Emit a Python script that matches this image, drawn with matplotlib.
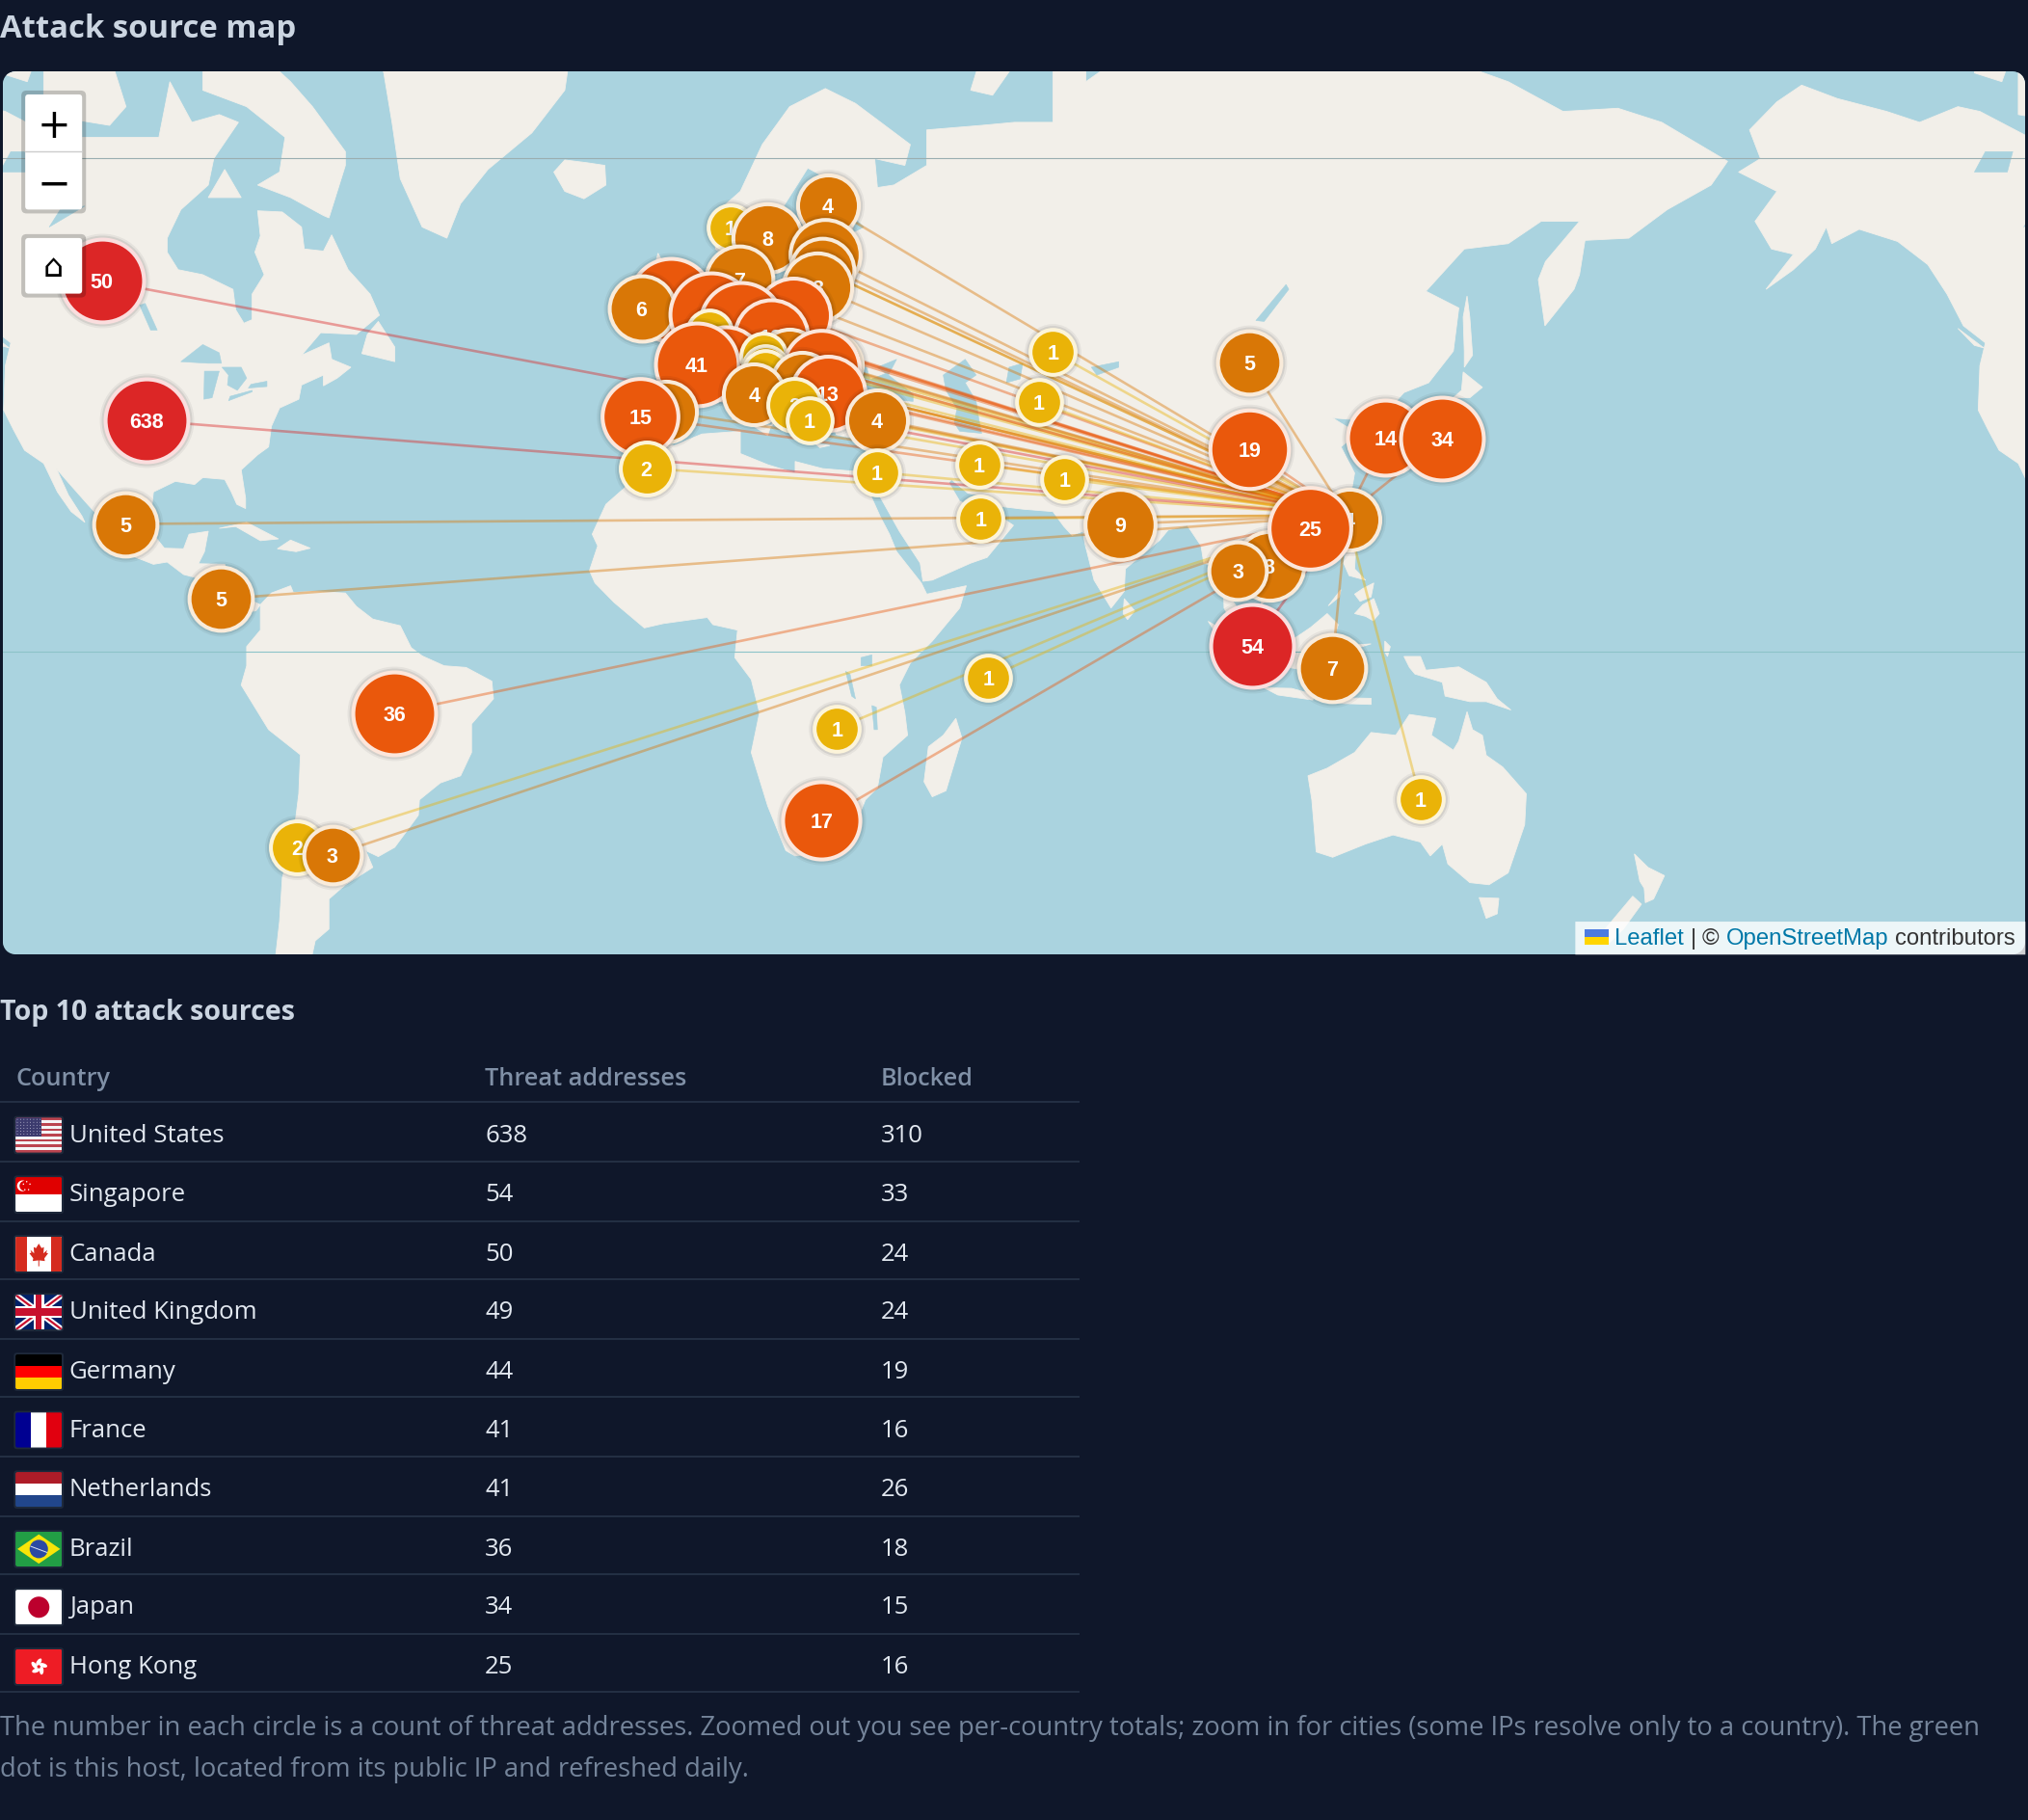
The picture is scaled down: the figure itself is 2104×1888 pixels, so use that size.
import numpy as np
import matplotlib
matplotlib.use("Agg")
import matplotlib.pyplot as plt
from matplotlib.patches import FancyBboxPatch, Rectangle, Circle, Ellipse, Polygon

# ---------- table data ----------
countries = ["United States", "Singapore", "Canada", "United Kingdom", "Germany",
             "France", "Netherlands", "Brazil", "Japan", "Hong Kong"]
threats = [638, 54, 50, 49, 44, 41, 41, 36, 34, 25]
blocked = [310, 33, 24, 24, 19, 16, 26, 18, 15, 16]
headers = ["Country", "Threat addresses", "Blocked"]
footer_lines = ["The number in each circle is a count of threat addresses. Zoomed out you see per-country totals; zoom in for cities (some IPs resolve only to a country). The green",
                "dot is this host, located from its public IP and refreshed daily."]

# ---------- map markers, drawn in this order ----------
marker_count = [4, 1, 8, 9, 5, 7, 8, 49, 6, 41, 13, 44, 1, 12, 12, 41,
                4, 1, 4, 15, 1, 1, 4, 13, 4, 4, 15, 2, 1, 4, 2,
                1, 1, 1, 1, 1, 1, 9,
                5, 19, 14, 34, 4, 8, 25, 3, 54, 7,
                50, 638, 5, 5, 36, 2, 3, 17, 1, 1, 1]
marker_lon = [25.9, 8.25, 14.9, 25.5, 25.0, 9.9, 24.1, -2.6, -8.0, 4.7, 19.6, 10.1, 4.4, 15.6, 7.3, 2.1,
              18.9, 14.2, 26.6, 24.8, 14.6, 14.6, 21.2, 25.9, 12.5, -3.5, -8.25, 19.8, 22.6, 34.9, -7.1,
              34.9, 67.0, 64.4, 53.5, 69.1, 53.8, 79.2,
              102.8, 102.8, 127.6, 138.0, 121.0, 106.4, 113.9, 100.7, 103.3, 117.9,
              -106.4, -98.3, -102.1, -84.7, -53.1, -70.8, -64.4, 24.8, 27.6, 55.2, 134.0]
marker_lat = [62.83, 60.95, 60.0, 58.44, 56.94, 56.0, 55.2, 53.85, 52.99, 52.3, 52.15, 51.2, 50.23, 49.8, 46.46, 46.31,
              46.96, 47.44, 46.3, 45.82, 45.82, 45.2, 44.05, 42.61, 42.5, 40.12, 39.39, 41.0, 38.85, 38.85, 31.74,
              31.13, 47.9, 41.37, 32.34, 30.11, 23.61, 22.73,
              46.63, 34.7, 36.43, 36.24, 23.39, 15.6, 22.08, 14.69, 1.18, -2.83,
              55.88, 38.85, 22.73, 9.63, -11.02, -33.52, -34.7, -29.31, -13.78, -4.71, -25.95]
# markers whose number is completely covered by a later marker
marker_label_covered = [3, 4, 7, 9, 10, 11, 12, 14, 16, 17, 18, 20, 21, 22, 25]
hub_lon = 120.5
hub_lat = 24.2

# ---------- coastlines (lon, lat) ----------
north_america = [(-168,65.5),(-164,66.5),(-166,68.5),(-161,70.3),(-156.5,71.3),(-150,70.5),(-141,69.7),(-135,69),(-128,70),(-124,69.7),(-115,68),(-108,68),(-100,68),(-96,68),(-94,71.5),(-90,69),(-85,69.5),(-81.5,69),(-86,66.5),(-87,64.5),(-92,62.5),(-94.5,60),(-94.5,58.7),(-92.5,57),(-88,56.5),(-82.5,55),(-82,52.8),(-80.5,51.3),(-79,51.7),(-79,54.5),(-76.8,56.5),(-78.5,58.7),(-77.5,60.2),(-78,62.4),(-73.5,62.3),(-70,61),(-69.5,59),(-66,58.8),(-64.5,60.3),(-61.5,57),(-57.5,54.5),(-55.8,52.2),(-60,50),(-66.5,50.2),(-70,47.5),(-65,49),(-64.5,47),(-61,46),(-63.5,44.6),(-66,43.6),(-66,45),(-70,43.7),(-70.5,41.8),(-74,40.6),(-75.5,38),(-76,35),(-78,33.8),(-81,31.5),(-80.2,27),(-80.2,25.3),(-81.8,26),(-82.8,28),(-84,30),(-88,30.3),(-89.5,29.2),(-93,29.7),(-97,28),(-97.5,24),(-97.5,21.5),(-95,18.6),(-91.5,18.5),(-90.5,21),(-87,21.5),(-87.7,18),(-88.8,15.9),(-84,15.8),(-83.3,13),(-83.7,10.8),(-81.5,9),(-79.5,9.5),(-77.5,8.6),(-78.3,7.5),(-80,7.3),(-83,8.2),(-85.7,10),(-87.5,13),(-91.5,14),(-94.5,16.2),(-97,15.8),(-101.5,17.5),(-105.5,20),(-105.5,22.5),(-109,26),(-112.5,29.5),(-114.7,31.7),(-112.5,27.5),(-110,24),(-109.5,23),(-112,24.8),(-114.5,28),(-117,32.5),(-120.5,34.5),(-122.5,37.5),(-124.3,40.3),(-124,46.2),(-123,49),(-127,51),(-130,54.5),(-133.5,57.5),(-139,59.7),(-146,60.8),(-151,59.5),(-152,61),(-154,59),(-158,57),(-163,55),(-158,58.5),(-162,59),(-165,61.5),(-161,64)]
baffin = [(-62,66),(-65,61.8),(-66,62),(-72,63.5),(-78,64.5),(-74,65.5),(-73,68),(-80,70),(-88,71),(-88,73.5),(-80,73.7),(-72,71.5),(-68,70),(-62,67)]
victoria_island = [(-117,69.5),(-105,68.8),(-102,70),(-105,73),(-117,73)]
banks_island = [(-125,72),(-120,71.5),(-117,74),(-124,74.5)]
southampton = [(-87,63.5),(-81,63.5),(-84,65.7)]
newfoundland = [(-59,47.7),(-53,46.7),(-53,48.5),(-56,51.5),(-58,50)]
cuba = [(-85,22),(-80,23),(-74.2,20.2),(-77.5,19.9),(-82,22.3)]
hispaniola = [(-74.4,18.5),(-72,20),(-68.4,18.6),(-71,18)]
vancouver = [(-128,50.7),(-123.3,48.4),(-125,48.7)]
greenland = [(-73,78.5),(-60,82),(-30,83.5),(-18,80),(-20,75),(-22,71),(-28,68.3),(-36,65.7),(-41,63),(-43.5,60),(-48,61),(-52,65),(-53.5,69),(-55,72),(-60,76)]
iceland = [(-24,65.5),(-22,64),(-18.5,63.4),(-14.5,64.5),(-14.7,66),(-18,66.2),(-22,66.4)]
south_america = [(-77.5,8.6),(-75.5,10.7),(-72,12),(-71.5,10.8),(-68,11),(-62,10.7),(-60,8.3),(-57,6),(-52,4.8),(-50,0.8),(-48,-0.7),(-44,-2.5),(-40,-2.8),(-35.3,-5.3),(-35,-8.5),(-39,-13),(-39,-18),(-41,-22),(-44.7,-23.2),(-48.5,-26),(-48.7,-28.5),(-53,-33.5),(-56,-34.9),(-58.3,-34),(-57,-36.5),(-62,-39),(-65,-41),(-65,-45),(-67.5,-46.5),(-69,-51),(-68.5,-54),(-72,-54),(-75,-50),(-74,-44),(-73.5,-38),(-71.5,-32),(-70.5,-25),(-70.2,-18.4),(-76,-14),(-81,-6),(-80,-2.5),(-80,1),(-77.5,4)]
africa = [(-6,35.8),(-2,35.2),(3,36.9),(10,37.3),(10,34),(15,32.3),(20,31),(20,32.8),(25,31.7),(32,31.2),(34.2,31.3),(32.5,29.9),(35.5,24),(37.2,21),(38.5,18),(43,12.5),(44,10.5),(51.2,12),(50,8),(45,2),(41,-2),(39,-6),(40,-11),(40.5,-15),(36,-18.8),(35,-24),(32.8,-26),(31,-30),(27,-34),(20,-34.8),(18.3,-34),(15,-27),(12,-18),(13.5,-11),(12,-5),(9,-1),(9.5,4),(5,5),(4,6.3),(-4,5.2),(-7.5,4.4),(-13,9),(-16.5,12.5),(-17.5,14.7),(-16,19),(-17,21),(-14.5,26),(-10,29.5),(-9.5,33)]
madagascar = [(49.3,-12),(50.4,-15.5),(47.5,-24.5),(45,-25.5),(43.5,-23),(44.3,-17),(47,-15)]
eurasia = [(-9,37),(-9.5,38.7),(-8.8,42),(-9.2,43.2),(-4,43.5),(-1.7,43.4),(-1.2,46),(-4.7,48.3),(-1.6,48.7),(-1.5,49.7),(2,51),(4,52),(5,53.3),(8.3,54),(8.2,57),(10.7,57.7),(10,55),(11,54),(14,54),(18.5,54.7),(21,55.5),(21.5,57.5),(24.3,57.3),(23.5,59.2),(28,59.6),(30,60),(25,60.2),(21.5,61),(21.5,63),(25,65.2),(22.3,65.8),(17.5,62.5),(17,60.7),(18.8,59.7),(16.5,57),(14.3,55.5),(12.8,55.5),(11.5,58.5),(10.5,59.3),(8,58),(5.5,59),(5,62),(10,64),(14,67.5),(19,70),(25.5,71.1),(31,70.2),(41,67.5),(40,66),(34.5,66.5),(35,64.3),(38,64.5),(44,66),(44,68.5),(54,68.8),(60,69),(67,69),(67,72.5),(73,73),(73,71.5),(80,73),(87,75),(100,76.5),(105,77.5),(113,74),(128,73),(140,72.6),(150,71.5),(160,69.7),(170,69.9),(178,69),(190,66.3),(187,64.5),(179,62.5),(172,60),(164,59.8),(163,56.5),(162,55),(156.7,51),(155.5,56),(156.8,57.8),(163,61.5),(156,61.5),(150,59.5),(142,59),(135,54.8),(141,53),(140,48),(135.5,44),(131,42.7),(127.5,39.8),(129.3,37),(129,35.2),(126.5,34.5),(126.5,37.5),(125,38),(125.2,39.5),(121.5,39),(118,39.2),(122.5,37),(119.5,35),(122,31),(121.5,28.5),(118.5,24.5),(114,22.3),(110.5,21),(108,21.7),(105.8,19),(109,13),(109,11.5),(105,8.7),(105,10),(100.5,13.5),(99.3,10),(103.3,4),(104.2,1.4),(101,3),(98.2,8),(98,15),(94.5,16),(94,19),(91.5,22.5),(88,21.7),(86.5,20),(80.2,15),(80,11),(77.6,8),(74.5,13),(72.8,19.5),(72.5,21.5),(70.5,20.8),(69,22.3),(67,24.8),(61.5,25.2),(57,25.7),(56.3,27),(51.5,27.8),(48.5,30),(48,29.5),(50,26.5),(51.3,26),(51.5,24.5),(54,24.2),(56.3,26),(56.5,24.5),(59.8,22.5),(55,17),(52,16),(45,13),(43.3,12.8),(42.8,16),(39,21.5),(35,28),(34.9,29.5),(34.3,31.3),(36,34.5),(36,36.8),(30.5,36.3),(27.5,36.8),(26.2,39.5),(29,41),(26.3,40.5),(23.5,40.2),(24,38),(22.8,36.5),(21,38),(19.5,41),(19,42.3),(14,45),(12.5,45.5),(12.4,44),(16,41.5),(18.4,40),(16.5,39),(15.7,38),(16,40),(14,40.8),(10.5,43),(8.7,44.3),(6,43),(3.5,43.3),(3,41.8),(0,39.8),(-0.5,38),(-2,36.8),(-5.5,36)]
britain = [(-5.5,50),(1.4,51.2),(1.7,52.7),(0,53.5),(-1.7,55.5),(-2,57.6),(-4,57.6),(-5,58.6),(-6,56.5),(-3,54.8),(-4.5,53.3),(-5,51.7),(-3,51.3)]
ireland = [(-10,51.6),(-6.2,52.2),(-6,54),(-7,55.3),(-10,54.2)]
sicily = [(12.5,38),(15.6,38.2),(15,36.7)]
sardinia = [(8.3,41),(9.7,41),(9.5,39),(8.5,39)]
crete = [(23.6,35.5),(26.3,35.2),(24.5,34.9)]
cyprus = [(32.3,35),(34.5,35.6),(33.5,34.7)]
novaya_zemlya = [(52,71),(56,70.7),(60,72.5),(68,76.5),(60,76),(54,73)]
honshu = [(131,34.3),(135.5,33.6),(140,35),(141,38),(141.5,41.3),(140,40.5),(138.5,37.3),(136.5,37),(132.5,35.4)]
hokkaido = [(140,42),(143,42),(145.3,43.4),(141.8,45.4),(141.5,43)]
kyushu = [(130,33.3),(131.8,33.3),(131,31),(130.2,31.3)]
shikoku = [(132.5,33.8),(134.5,34.2),(134,33.3),(132.8,32.8)]
sakhalin = [(142,46),(143.5,47.5),(143,52),(142.5,54.3),(141.8,52),(142,48)]
taiwan = [(120.2,23),(121.5,25.2),(122,25),(120.9,22)]
hainan = [(108.7,19.3),(110.5,20),(110.9,19),(109.5,18.2)]
luzon = [(120,16),(120.6,18.5),(122.2,18.4),(122,15),(124,13),(121,13.8)]
mindanao = [(122,7),(123.5,8.6),(125.5,9.7),(126.5,7),(125.4,5.7),(124,6.5)]
visayas = [(122,10.5),(123.5,11.5),(125.5,12.5),(125,10),(123,9.2)]
palawan = [(117.2,8.4),(119.5,11.3),(119.2,10)]
borneo = [(109,1.5),(111.5,2.8),(114,4.5),(117,7),(119,5),(117.8,1),(116.5,-3.5),(114,-3.5),(110,-2.8)]
sumatra = [(95.3,5.6),(98,4),(103.5,0),(106,-3),(105.8,-5.8),(102,-4),(99,-0.5),(97,3)]
java = [(105.5,-6.5),(110.5,-6.6),(114.5,-7.7),(114.4,-8.7),(108,-7.8)]
sunda = [(115,-8.3),(119,-8.3),(125,-8.4),(125,-9.5),(119,-9.3)]
sulawesi = [(119.5,-5.5),(119,-2.5),(120.8,1.2),(125,1.5),(121,0.3),(123,-1),(121.5,-2),(122.8,-4.5),(121,-3),(120.4,-5.5)]
halmahera = [(127.5,2),(128.5,1),(128,-0.8),(127.5,0)]
new_guinea = [(131,-0.8),(134,-0.8),(135,-3.3),(141,-2.7),(146,-5.5),(148,-8.5),(150.5,-10.5),(146,-9),(143,-9),(138.5,-8),(138,-5.5),(133,-4),(132,-2.8)]
sri_lanka = [(80,9.7),(81.9,7.5),(80.6,5.9),(79.8,7)]
australia = [(113.5,-22),(114.2,-26),(115,-34.2),(118,-35),(124,-33),(129,-31.6),(134,-32.7),(135.8,-34.8),(138,-33),(139,-36),(143,-38.7),(146.5,-39),(150,-37.3),(153,-30),(153.3,-25),(149,-20.5),(146,-18.5),(145.3,-15),(143.5,-14),(142.5,-10.8),(141,-16),(140,-17.6),(136,-15),(136.8,-12),(132,-11.3),(129.5,-15),(125,-14.5),(122,-18),(117,-20.7)]
tasmania = [(144.7,-40.8),(148.3,-40.9),(148,-43),(146,-43.6)]
nz_north = [(173,-34.5),(175.5,-36.5),(178.5,-37.7),(176.5,-41),(175,-41.5),(174.8,-39.5),(174,-38.5)]
nz_south = [(172.7,-40.6),(174.3,-41.7),(171,-45),(168.5,-46.7),(166.5,-46),(170,-43)]
land_shapes = [north_america, baffin, victoria_island, banks_island, southampton, newfoundland, cuba, hispaniola,
               vancouver, greenland, iceland, south_america, africa, madagascar, eurasia, britain, ireland, sicily,
               sardinia, crete, cyprus, novaya_zemlya, honshu, hokkaido, kyushu, shikoku, sakhalin, taiwan, hainan,
               luzon, mindanao, visayas, palawan, borneo, sumatra, java, sunda, sulawesi, halmahera, new_guinea,
               sri_lanka, australia, tasmania, nz_north, nz_south]

black_sea = [(28,41.5),(28,43.5),(30.5,46.3),(33,46),(33.7,44.4),(36.5,45.2),(35,46),(38.5,47),(37,45),(41.5,42.5),(41.5,41.5),(35,42),(31,41.2)]
caspian = [(47,45),(51,47),(53,45),(51,44),(53,41.5),(53.5,39),(54,37),(50,37.3),(49,38.5),(49.5,40.5),(47.5,43)]
aral = [(58.5,44),(59,46),(61.5,46.5),(61,44.5)]
baikal = [(104,51.6),(109.5,55.5),(110,55),(105.5,51.5)]
balkhash = [(74,46),(79,46.7),(79,46),(75,45)]
ladoga = [(30.5,60.5),(32.5,61),(31,61.7)]
superior = [(-92,46.7),(-88,48.8),(-85,47.8),(-84.6,46.5),(-87,46.5)]
michigan = [(-87.8,41.8),(-86.3,42),(-85,45.5),(-87.7,45.5)]
huron = [(-84.5,46),(-81,46),(-80,44.6),(-81.7,43),(-83.5,43.7),(-83.3,45)]
erie = [(-83.3,41.6),(-79,42.8),(-79,43),(-83,42.2)]
ontario = [(-79.7,43.3),(-76.3,43.5),(-76.3,44.2),(-79.2,43.8)]
winnipeg = [(-97.5,50.5),(-96.3,50.5),(-98.5,53.5),(-99.5,53.3)]
great_slave = [(-116,61),(-111,62.4),(-109.5,62.8),(-114,62.5)]
great_bear = [(-125,65.5),(-119,65.5),(-118,67),(-123,67)]
victoria_lake = [(32,-1),(34,-0.5),(34,-2.5),(32,-2.5)]
tanganyika = [(29.2,-3.5),(30,-4),(31,-8.5),(30.3,-8)]
malawi = [(34,-9.7),(34.8,-10),(35,-14),(34.4,-14)]
water_shapes = [black_sea, caspian, aral, baikal, balkhash, ladoga, superior, michigan, huron, erie, ontario,
                winnipeg, great_slave, great_bear, victoria_lake, tanganyika, malawi]

# ---------- colours ----------
page_bg = "#0f172a"
water = "#aad3df"
land = "#f2efe9"
line_col = "#263246"


def sev_color(n):
    if n >= 50:
        return "#dc2626"
    if n >= 10:
        return "#ea580c"
    if n >= 3:
        return "#d97706"
    return "#eab308"


def sev_radius(n):
    return min(33.5, 18.9 + 4.4 * np.log(n))


def merc(lat):
    lat = np.clip(np.asarray(lat, dtype=float), -85, 85)
    return np.log(np.tan(np.pi / 4 + np.radians(lat) / 2))


def merc_inv(y):
    return np.degrees(2 * np.arctan(np.exp(np.asarray(y, dtype=float))) - np.pi / 2)


def mix_white(col, a):
    rgb = np.array(matplotlib.colors.to_rgb(col))
    return tuple(rgb * (1 - a) + a)


W, H = 1568.0, 1407.0
K = 2104.0 / 1568.0 * 0.72  # picture px -> points

fig = plt.figure(figsize=(21.04, 18.88), dpi=100, facecolor=page_bg)
page = fig.add_axes([0, 0, 1, 1], zorder=0)
page.set_xlim(0, W)
page.set_ylim(H, 0)
page.axis("off")

# ---------- map ----------
mx0, mx1, my0, my1 = 2, 1566, 55, 738
amap = fig.add_axes([mx0 / W, 1 - my1 / H, (mx1 - mx0) / W, (my1 - my0) / H], zorder=1)
amap.set_yscale("function", functions=(merc, merc_inv))
amap.set_xlim(-124.5, 244.3)
amap.set_ylim(-48.2, 72.1)
amap.axis("off")
amap.add_patch(Rectangle((0, 0), 1, 1, transform=amap.transAxes, color=water, zorder=0))

for shift in [0, 360]:
    for shape in land_shapes:
        pts = [(a + shift, b) for a, b in shape]
        amap.add_patch(Polygon(pts, closed=True, fc=land, ec=land, lw=0.6, zorder=1))
    for shape in water_shapes:
        pts = [(a + shift, b) for a, b in shape]
        amap.add_patch(Polygon(pts, closed=True, fc=water, ec=water, lw=0.4, zorder=2))

# tile seams
amap.axhline(66.51, color="#9aaeb0", lw=0.8, zorder=3)
amap.axhline(0, color="#8cc3c8", lw=0.8, zorder=3)

for lo, la, n in zip(marker_lon, marker_lat, marker_count):
    amap.plot([lo, hub_lon], [la, hub_lat], color=sev_color(n), alpha=0.42, lw=1.9, zorder=5,
              solid_capstyle="butt")

for i, (lo, la, n) in enumerate(zip(marker_lon, marker_lat, marker_count)):
    z = 10 + i
    r = sev_radius(n)
    face = sev_color(n)
    for extra, al in [(3.0, 0.05), (1.5, 0.08)]:
        d = 2 * (r + extra) * K
        amap.scatter([lo], [la], s=d * d, color="black", alpha=al, linewidths=0, zorder=z)
    d = 2 * (r - 1.5) * K
    amap.scatter([lo], [la], s=d * d, facecolor=face, edgecolor=mix_white(face, 0.85),
                 linewidths=2.9, zorder=z + 0.1)
    if i not in marker_label_covered:
        amap.text(lo, la, str(n), color="white", fontsize=15.5, fontweight="bold", ha="center",
                  va="center_baseline", family="Liberation Sans", zorder=z + 0.2)

# rounded map corners
clip = FancyBboxPatch((mx0, my0), mx1 - mx0, my1 - my0, boxstyle="round,pad=0,rounding_size=12",
                      transform=page.transData, fc="none", ec="none")
for art in amap.get_children():
    if art is not amap.patch:
        art.set_clip_path(clip)

# ---------- leaflet controls on top of the map ----------
top = fig.add_axes([0, 0, 1, 1], zorder=2)
top.set_xlim(0, W)
top.set_ylim(H, 0)
top.axis("off")
top.patch.set_alpha(0)


def control_box(y0, y1):
    top.add_patch(FancyBboxPatch((16.5, y0), 50, y1 - y0, boxstyle="round,pad=0,rounding_size=4",
                                 fc=(0, 0, 0, 0.2), ec="none"))
    top.add_patch(FancyBboxPatch((19.5, y0 + 3), 44, y1 - y0 - 6, boxstyle="round,pad=0,rounding_size=2.5",
                                 fc="white", ec="none"))


control_box(70, 165)
top.plot([19.5, 63.5], [117, 117], color="#cccccc", lw=1.0)
top.text(41.5, 94, "+", fontsize=30, ha="center", va="center_baseline", color="black", family="DejaVu Sans")
top.text(41.5, 139, "\u2212", fontsize=30, ha="center", va="center_baseline", color="black", family="DejaVu Sans")
control_box(181, 230)
top.text(41.5, 207, "\u2302", fontsize=24, ha="center", va="center", color="black", family="DejaVu Sans")

# attribution
top.add_patch(FancyBboxPatch((1218, 712.5), 348, 25.5, boxstyle="round,pad=0,rounding_size=0.1",
                             fc=(1, 1, 1, 0.8), ec="none"))
top.add_patch(Rectangle((1225.5, 718.5), 18, 6, fc="#4c7be1", ec="none"))
top.add_patch(Rectangle((1225.5, 724.5), 18, 6, fc="#ffd500", ec="none"))
attr_font = dict(fontsize=17.2, family="Liberation Sans", va="center_baseline", ha="left")
top.text(1248, 724, "Leaflet", color="#0078a8", **attr_font)
top.text(1307, 724, "|", color="#333333", **attr_font)
top.text(1316, 724, "\u00a9", color="#333333", **attr_font)
top.text(1334.5, 724, "OpenStreetMap", color="#0078a8", **attr_font)
top.text(1465.5, 724, "contributors", color="#333333", **attr_font)

# ---------- headings and table ----------
body = ["Open Sans", "DejaVu Sans"]
page.text(0, 23, "Attack source map", color="#cbd5e1", fontsize=23.7, fontweight="bold", family=body, va="center")
page.text(0, 783, "Top 10 attack sources", color="#cbd5e1", fontsize=20.6, fontweight="bold", family=body, va="center")

col_x = [12, 375, 681]
head_y = 834
row_y = [875, 921, 967, 1012, 1058, 1103, 1149, 1195, 1240, 1286]
rule_y = [852, 898, 944, 989, 1035, 1080, 1126, 1172, 1217, 1263, 1308]

for x, h in zip(col_x, headers):
    page.text(x, head_y, h, color="#8090a6", fontsize=18.2, fontweight="semibold", family=body, va="center")
for y in rule_y:
    page.plot([0, 835], [y, y], color=line_col, lw=1.3, solid_capstyle="butt")


def flag_patch(cy):
    return FancyBboxPatch((12, cy - 13.5), 36, 27, boxstyle="round,pad=0,rounding_size=1.6",
                          transform=page.transData, fc="none", ec="none")


def flag_rect(cy, u0, v0, u1, v1, col, clip_p):
    r = Rectangle((12 + 36 * u0, cy - 13.5 + 27 * v0), 36 * (u1 - u0), 27 * (v1 - v0), fc=col, ec="none", zorder=3)
    page.add_patch(r)
    r.set_clip_path(clip_p)


def flag_line(cy, u0, v0, u1, v1, col, w, clip_p):
    l, = page.plot([12 + 36 * u0, 12 + 36 * u1], [cy - 13.5 + 27 * v0, cy - 13.5 + 27 * v1], color=col, lw=w,
                   solid_capstyle="butt", zorder=4)
    l.set_clip_path(clip_p)


def flag_circle(cy, u, v, rad, col, clip_p, z=4):
    c = Circle((12 + 36 * u, cy - 13.5 + 27 * v), rad, fc=col, ec="none", zorder=z)
    page.add_patch(c)
    c.set_clip_path(clip_p)


def draw_flag(name, cy):
    page.add_patch(FancyBboxPatch((10.7, cy - 14.8), 38.6, 29.6, boxstyle="round,pad=0,rounding_size=2.5",
                                  fc="#1e293b", ec="none", zorder=2))
    p = flag_patch(cy)
    if name == "United States":
        for s in range(13):
            flag_rect(cy, 0, s / 13, 1, (s + 1) / 13, "#bb4450" if s % 2 == 0 else "#f4f4f6", p)
        flag_rect(cy, 0, 0, 0.56, 7 / 13, "#3c3b6e", p)
        for a in range(8):
            for b in range(6):
                flag_circle(cy, 0.04 + a * 0.07, 0.05 + b * 0.085, 0.33, "#d8d8e8", p)
    elif name == "Singapore":
        flag_rect(cy, 0, 0, 1, 0.5, "#e00000", p)
        flag_rect(cy, 0, 0.5, 1, 1, "white", p)
        flag_circle(cy, 0.15, 0.25, 4.2, "white", p)
        flag_circle(cy, 0.195, 0.25, 3.9, "#e00000", p, z=5)
        for u, v in [(0.24, 0.13), (0.17, 0.2), (0.31, 0.2), (0.2, 0.36), (0.28, 0.36)]:
            flag_circle(cy, u, v, 0.55, "white", p, z=6)
    elif name == "Canada":
        flag_rect(cy, 0, 0, 1, 1, "white", p)
        flag_rect(cy, 0, 0, 0.24, 1, "#d52b1e", p)
        flag_rect(cy, 0.76, 0, 1, 1, "#d52b1e", p)
        leaf_u = [0.5, 0.56, 0.61, 0.6, 0.68, 0.66, 0.7, 0.62, 0.63, 0.51, 0.51, 0.49, 0.49, 0.37, 0.38, 0.3, 0.34, 0.32, 0.4, 0.39, 0.44]
        leaf_v = [0.2, 0.33, 0.3, 0.48, 0.38, 0.46, 0.48, 0.62, 0.7, 0.68, 0.85, 0.85, 0.68, 0.7, 0.62, 0.48, 0.46, 0.38, 0.48, 0.3, 0.33]
        leaf = Polygon([(12 + 36 * u, cy - 13.5 + 27 * v) for u, v in zip(leaf_u, leaf_v)], fc="#d52b1e", ec="none", zorder=4)
        page.add_patch(leaf)
    elif name == "United Kingdom":
        flag_rect(cy, 0, 0, 1, 1, "#012169", p)
        flag_line(cy, 0, 0, 1, 1, "white", 4.4, p)
        flag_line(cy, 0, 1, 1, 0, "white", 4.4, p)
        flag_line(cy, 0, 0, 1, 1, "#c8102e", 1.6, p)
        flag_line(cy, 0, 1, 1, 0, "#c8102e", 1.6, p)
        r0 = Rectangle((12 + 36 * 0.39, cy - 13.5), 36 * 0.22, 27, fc="white", ec="none", zorder=5)
        r00 = Rectangle((12, cy - 13.5 + 27 * 0.33), 36, 27 * 0.34, fc="white", ec="none", zorder=5)
        r1 = Rectangle((12 + 36 * 0.44, cy - 13.5), 36 * 0.12, 27, fc="#c8102e", ec="none", zorder=6)
        r2 = Rectangle((12, cy - 13.5 + 27 * 0.39), 36, 27 * 0.22, fc="#c8102e", ec="none", zorder=6)
        for rr in [r0, r00, r1, r2]:
            page.add_patch(rr)
    elif name == "Germany":
        for s, c in enumerate(["#000000", "#ff0000", "#ffcc00"]):
            flag_rect(cy, 0, s / 3, 1, (s + 1) / 3, c, p)
    elif name == "France":
        for s, c in enumerate(["#000091", "#ffffff", "#e1000f"]):
            flag_rect(cy, s / 3, 0, (s + 1) / 3, 1, c, p)
    elif name == "Netherlands":
        for s, c in enumerate(["#ae1c28", "#ffffff", "#21468b"]):
            flag_rect(cy, 0, s / 3, 1, (s + 1) / 3, c, p)
    elif name == "Brazil":
        flag_rect(cy, 0, 0, 1, 1, "#229e45", p)
        d = Polygon([(12 + 36 * u, cy - 13.5 + 27 * v) for u, v in [(0.04, 0.5), (0.5, 0.08), (0.96, 0.5), (0.5, 0.92)]],
                    fc="#f8e509", ec="none", zorder=4)
        page.add_patch(d)
        flag_circle(cy, 0.5, 0.5, 7.1, "#2b49a3", p, z=5)
        flag_line(cy, 0.32, 0.42, 0.68, 0.6, "#dfe6f2", 0.7, p)
        page.lines[-1].set_zorder(6)
    elif name == "Japan":
        flag_rect(cy, 0, 0, 1, 1, "white", p)
        flag_circle(cy, 0.5, 0.5, 8.2, "#bc002d", p)
    elif name == "Hong Kong":
        flag_rect(cy, 0, 0, 1, 1, "#ee1c25", p)
        for k in range(5):
            ang = np.radians(k * 72 - 90)
            e = Ellipse((30 + 3.6 * np.cos(ang), cy + 3.6 * np.sin(ang)), 6.4, 3.2, angle=np.degrees(ang) + 35,
                        fc="white", ec="none", zorder=4)
            page.add_patch(e)


for i, name in enumerate(countries):
    y = row_y[i]
    draw_flag(name, y + 2.5)
    page.text(53.5, y + 3, name, color="#e2e8f0", fontsize=18.5, family=body, va="center")
    page.text(col_x[1], y + 3, str(threats[i]), color="#e2e8f0", fontsize=18.5, family=body, va="center")
    page.text(col_x[2], y + 3, str(blocked[i]), color="#e2e8f0", fontsize=18.5, family=body, va="center")

page.text(0, 1336, footer_lines[0], color="#74849a", fontsize=19.7, family=body, va="center")
page.text(0, 1368, footer_lines[1], color="#74849a", fontsize=19.7, family=body, va="center")

fig.savefig("out.png", dpi=100, facecolor=page_bg)
